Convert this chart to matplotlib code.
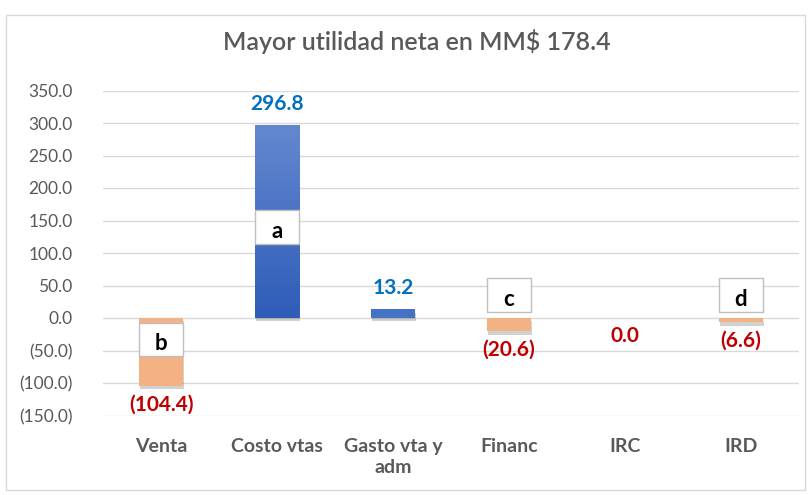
import numpy as np
import matplotlib
matplotlib.use("Agg")
import matplotlib.pyplot as plt
from matplotlib.patches import Rectangle
import matplotlib.patheffects as pe

plt.rcParams['font.family'] = ['Lato', 'DejaVu Sans']

categories = ["Venta", "Costo vtas", "Gasto vta y\nadm", "Financ", "IRC", "IRD"]
values = [-104.4, 296.8, 13.2, -20.6, 0.0, -6.6]
labels = ["(104.4)", "296.8", "13.2", "(20.6)", "0.0", "(6.6)"]
box_letters = ["b", "a", None, "c", None, "d"]
box_ranges = [(-58.5, -7.7), (114.0, 166.0), None, (9.0, 61.5), None, (9.0, 61.5)]
yticks = [-150, -100, -50, 0, 50, 100, 150, 200, 250, 300, 350]
title = "Mayor utilidad neta en MM$ 178.4"

GRAY = "#595959"
BLUE_LBL = "#0070C0"
RED_LBL = "#C00000"
ORANGE = "#F4B183"
BLUE = "#4472C4"

fig = plt.figure(figsize=(8.11, 4.95), dpi=100)
fig.patches.append(Rectangle((6/811, 5/495), 799/811, 475/495, transform=fig.transFigure,
                             fill=False, edgecolor="#D9D9D9", linewidth=1.0))
ax = fig.add_axes([103/811, 1 - 415.5/495, 696/811, 325/495])
ax.set_xlim(-0.5, len(categories) - 0.5)
ax.set_ylim(-150, 350)
ax.set_yticks(yticks)
ax.set_yticklabels([f"({abs(v):.1f})" if v < 0 else f"{v:.1f}" for v in yticks])
ax.yaxis.grid(True, color="#D9D9D9", linewidth=1.0)
ax.set_axisbelow(True)
for s in ax.spines.values():
    s.set_visible(False)
ax.tick_params(axis='y', length=0, pad=22, labelsize=12.5, labelcolor=GRAY)
ax.set_xticks(range(len(categories)))
ax.set_xticklabels(categories, fontsize=14, fontweight='bold', color=GRAY, linespacing=1.3)
ax.tick_params(axis='x', length=0, pad=16)

x = np.arange(len(categories))
shadow = [pe.SimplePatchShadow(offset=(1, -2.5), alpha=0.18, shadow_rgbFace="black"), pe.Normal()]
bw = 0.38
for i, v in enumerate(values):
    col = BLUE if v > 0 else ORANGE
    if v == 0:
        b = ax.bar(x[i], 0.0001, width=bw, color="white", edgecolor="none")
        b[0].set_path_effects([pe.SimplePatchShadow(offset=(0, -2), alpha=0.06), pe.Normal()])
    else:
        b = ax.bar(x[i], v, width=bw, color=col, edgecolor="none")
        b[0].set_path_effects(shadow)
        if v > 100:
            grad = np.linspace(0, 1, 256).reshape(-1, 1)
            cmap = matplotlib.colors.LinearSegmentedColormap.from_list("g", ["#2E5CB8", "#6488D0"])
            im = ax.imshow(grad, aspect='auto', cmap=cmap, origin='lower',
                           extent=(x[i] - bw/2, x[i] + bw/2, 0, v), zorder=2.5)
            im.set_clip_path(b[0])
    if v > 0:
        ax.annotate(labels[i], (x[i], v), xytext=(0, 8), textcoords='offset points',
                    ha='center', va='bottom', fontsize=15, fontweight='bold', color=BLUE_LBL)
    else:
        ax.annotate(labels[i], (x[i], v), xytext=(0, -6), textcoords='offset points',
                    ha='center', va='top', fontsize=15, fontweight='bold', color=RED_LBL)

for i, (lt, rng) in enumerate(zip(box_letters, box_ranges)):
    if lt is None:
        continue
    lo, hi = rng
    ax.add_patch(Rectangle((x[i] - bw/2, lo), bw, hi - lo, facecolor="white",
                           edgecolor="#BFBFBF", linewidth=1.0, zorder=4))
    ax.text(x[i], lo + (hi - lo) * 0.06, lt, ha='center', va='bottom', fontsize=16,
            fontweight='bold', color="black", zorder=5)

ax.set_xlim(-0.5, len(categories) - 0.5)
ax.set_ylim(-150, 350)

fig.text(417/811, 1 - 42/495, title, ha='center', va='center', fontsize=18,
         color=GRAY, fontweight='semibold')

fig.savefig("out.png", dpi=100)
